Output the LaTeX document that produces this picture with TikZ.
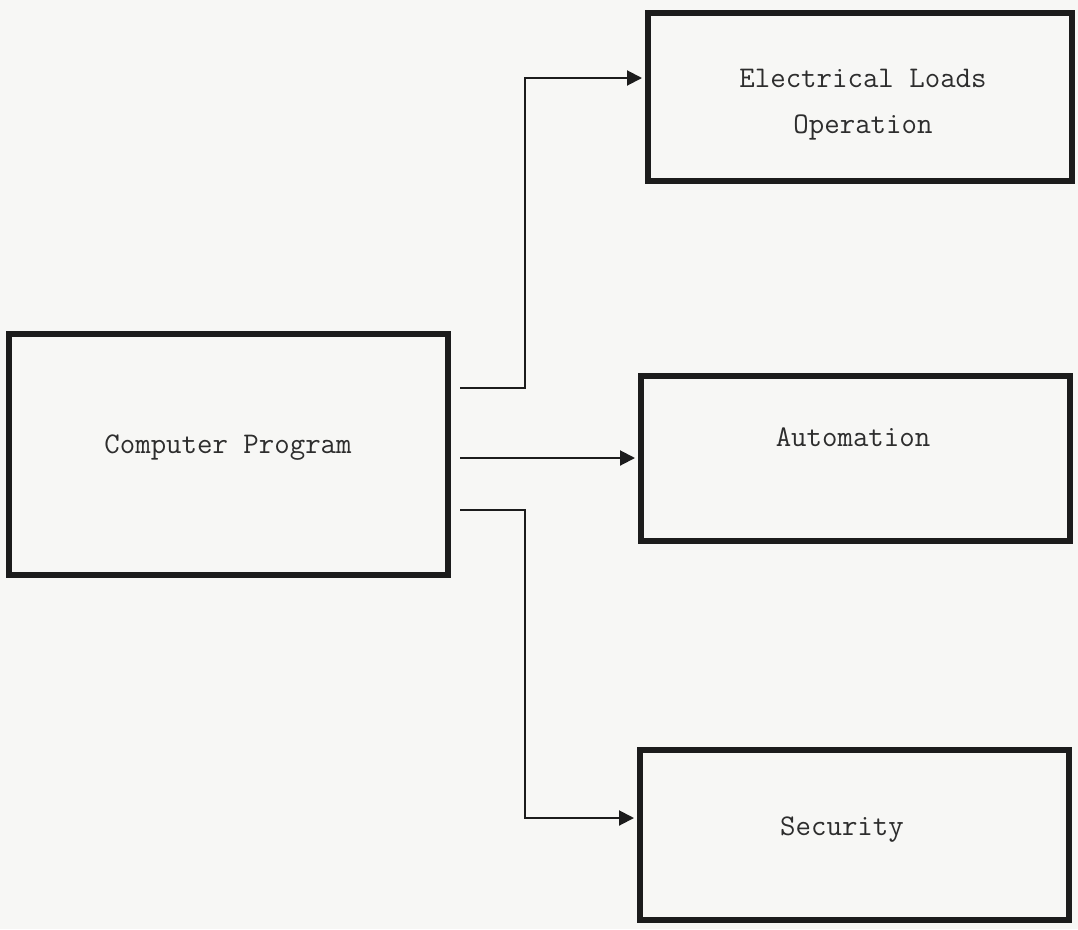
\documentclass[tikz,border=0pt]{standalone}
\usepackage{fontspec}
\usetikzlibrary{arrows.meta}
\definecolor{paper}{RGB}{247,247,245}
\definecolor{ink}{RGB}{28,28,28}
\definecolor{txt}{RGB}{45,45,45}
\tikzset{
  blockbox/.style={draw=ink, line width=6pt, inner sep=0pt},
  lbl/.style={text=txt, font=\ttfamily\fontsize{30}{46}\selectfont, align=center, inner sep=0pt},
  conn/.style={draw=ink, line width=2pt, -{Triangle[length=15pt,width=15pt]}}
}
\begin{document}
\begin{tikzpicture}[x=1pt,y=-1pt]
\fill[paper] (0,0) rectangle (1078,929);
\useasboundingbox (0,0) rectangle (1078,929);
% boxes
\node[blockbox, minimum width=439pt, minimum height=241pt] (cp) at (228.5,454.5) {};
\node[blockbox, minimum width=424pt, minimum height=168pt] (elo) at (860,97) {};
\node[blockbox, minimum width=429pt, minimum height=165pt] (aut) at (855.5,458.5) {};
\node[blockbox, minimum width=429pt, minimum height=170pt] (sec) at (854.5,835) {};
% labels
\node[lbl] (cpt) at (228,448) {Computer Program};
\node[lbl] (elot) at (863,105) {Electrical Loads\\Operation};
\node[lbl] (autt) at (853,437) {Automation};
\node[lbl] (sect) at (842,830) {Security};
% connectors
\coordinate (j1) at (525,78);
\coordinate (j2) at (525,818);
\draw[conn] ([xshift=9pt]cp.east |- 0,388) -| (j1) -- ([xshift=-3pt]elo.west |- j1);
\draw[conn] ([xshift=9pt]cp.east |- 0,458) -- ([xshift=-3pt]aut.west |- 0,458);
\draw[conn] ([xshift=9pt]cp.east |- 0,510) -| (j2) -- ([xshift=-3pt]sec.west |- j2);
\end{tikzpicture}
\end{document}
